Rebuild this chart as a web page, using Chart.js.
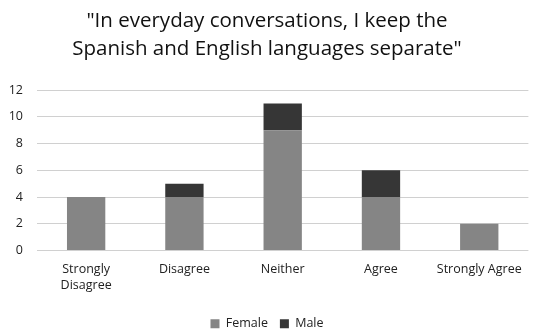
<!DOCTYPE html>
<html>
<head>
<meta charset="utf-8">
<script src="https://cdn.jsdelivr.net/npm/chart.js@4/dist/chart.umd.min.js"></script>
<style>
  html, body { margin: 0; padding: 0; background: #fff; }
  #wrap { width: 533px; height: 331px; }
</style>
</head>
<body>
<div id="wrap"><canvas id="c" width="533" height="331"></canvas></div>
<script>
// Survey responses, stacked by gender
const categories = [["Strongly", "Disagree"], "Disagree", "Neither", "Agree", "Strongly Agree"];
const femaleCounts = [4, 4, 9, 4, 2];
const maleCounts = [0, 1, 2, 2, 0];
const yTicks = [0, 2, 4, 6, 8, 10, 12];

const FONT = "'Open Sans', 'Liberation Sans', sans-serif";

new Chart(document.getElementById('c'), {
  type: 'bar',
  data: {
    labels: categories,
    datasets: [
      { label: 'Female', data: femaleCounts, backgroundColor: '#858585', categoryPercentage: 1, barPercentage: 0.39 },
      { label: 'Male', data: maleCounts, backgroundColor: '#363636', categoryPercentage: 1, barPercentage: 0.39 }
    ]
  },
  options: {
    responsive: false,
    animation: false,
    layout: { padding: { left: 4, right: 3, top: 0, bottom: -9 } },
    plugins: {
      title: {
        display: true,
        text: ['"In everyday conversations, I keep the', 'Spanish and English languages separate"'],
        color: '#111',
        font: { family: FONT, size: 20.5, weight: 'normal', lineHeight: 1.37 },
        padding: { top: 7, bottom: 27 }
      },
      legend: {
        position: 'bottom',
        labels: {
          color: '#222',
          font: { family: FONT, size: 12.5 },
          boxWidth: 9, boxHeight: 9, padding: 12
        }
      },
      tooltip: { enabled: false }
    },
    scales: {
      x: {
        stacked: true,
        grid: { display: false, drawTicks: false },
        border: { display: false },
        ticks: { color: '#222', font: { family: FONT, size: 12.5, lineHeight: 1.3 }, padding: 11, maxRotation: 0, autoSkip: false },
        afterFit: (axis) => { axis.height = 55; }
      },
      y: {
        stacked: true,
        min: 0, max: 12,
        afterBuildTicks: (axis) => { axis.ticks = yTicks.map(v => ({ value: v })); },
        grid: { color: '#d0d0d0', lineWidth: 1, drawTicks: false },
        border: { display: false },
        ticks: { color: '#222', font: { family: FONT, size: 12.5 }, padding: 14 },
        afterFit: (axis) => { axis.width = 33; }
      }
    }
  }
});
</script>
</body>
</html>
